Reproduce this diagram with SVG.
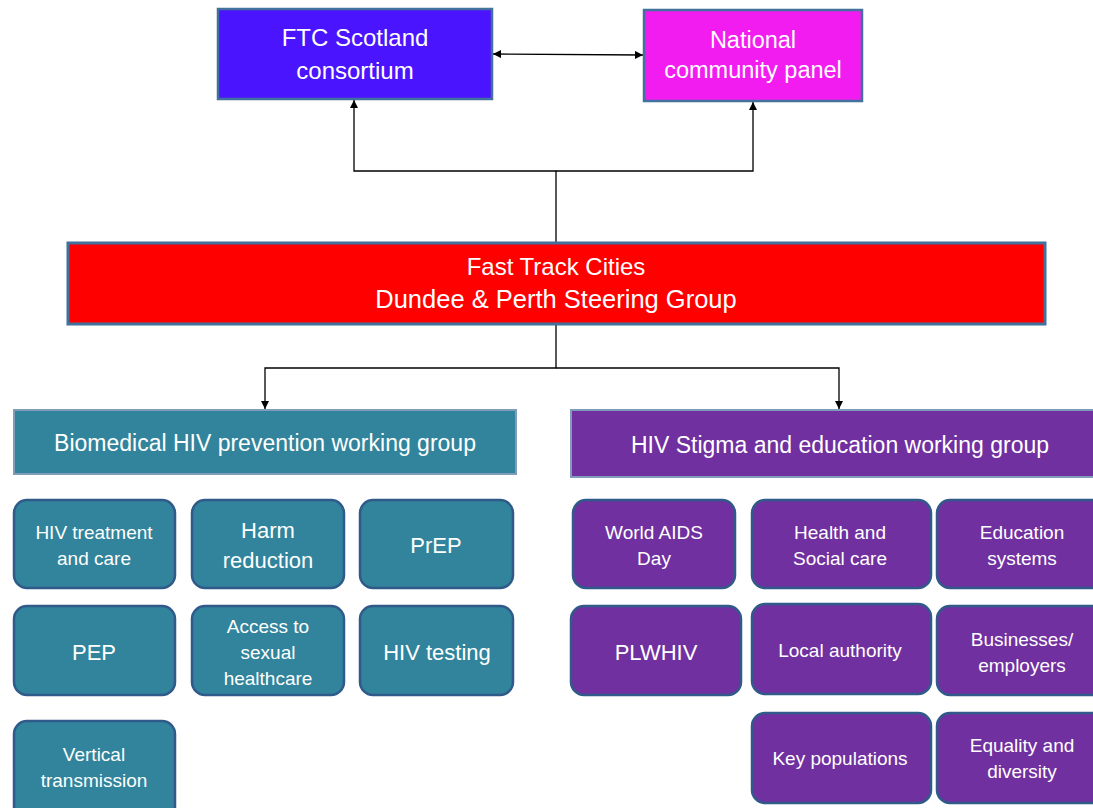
<svg xmlns="http://www.w3.org/2000/svg" width="1093" height="808" viewBox="0 0 1093 808">
<style>
text{font-family:"Liberation Sans",Arial,sans-serif;fill:#fff;text-anchor:middle}
.top{stroke:#41719C;stroke-width:2.5}
.wg{stroke:#7F9DBB;stroke-width:2}
.tb{fill:#31849B;stroke:#2F5A8A;stroke-width:2.5}
.pb{fill:#7030A0;stroke:#2F5A8A;stroke-width:2.5}
.s{font-size:19px}
.b{font-size:22px}
.conn{fill:none;stroke:#000;stroke-width:1.3}
</style>
<defs>
<marker id="ah" viewBox="0 0 10 10" refX="10" refY="5" markerWidth="8" markerHeight="8" markerUnits="userSpaceOnUse" orient="auto-start-reverse">
<path d="M0,0 L10,5 L0,10 z" fill="#000"/>
</marker>
</defs>
<rect width="1093" height="808" fill="#fff"/>
<g id="connectors">
<line class="conn" x1="493" y1="54" x2="643" y2="55" marker-start="url(#ah)" marker-end="url(#ah)"/>
<polyline class="conn" points="556,243 556,171 354,171 354,100" marker-end="url(#ah)"/>
<polyline class="conn" points="556,171 753,171 753,102" marker-end="url(#ah)"/>
<polyline class="conn" points="556,325 556,368 265,368 265,409" marker-end="url(#ah)"/>
<polyline class="conn" points="556,368 839,368 839,409" marker-end="url(#ah)"/>
</g>
<g id="ftc">
<rect class="top" x="218" y="9" width="274" height="90" fill="#4A14FF"/>
<text x="355" y="46" font-size="24">FTC Scotland</text>
<text x="355" y="79" font-size="24">consortium</text>
</g>
<g id="ncp">
<rect class="top" x="644" y="10" width="218" height="91" fill="#F21CF0"/>
<text x="753" y="48" font-size="23.5">National</text>
<text x="753" y="78" font-size="23.5">community panel</text>
</g>
<g id="steering">
<rect x="68" y="243" width="977" height="81" fill="#FF0000" stroke="#41719C" stroke-width="3"/>
<text x="556" y="275" font-size="24">Fast Track Cities</text>
<text x="556" y="308" font-size="25.5">Dundee &amp; Perth Steering Group</text>
</g>
<g id="biomedical">
<rect class="wg" x="14" y="410" width="502" height="64" fill="#31849B"/>
<text x="265" y="451" font-size="23">Biomedical HIV prevention working group</text>
</g>
<g id="stigma">
<rect class="wg" x="571" y="410" width="540" height="67" fill="#7030A0"/>
<text x="840" y="453" font-size="23">HIV Stigma and education working group</text>
</g>
<g id="hiv-treatment">
<rect class="tb" x="14" y="500" width="161" height="88" rx="13"/>
<text class="s" x="94" y="539">HIV treatment</text>
<text class="s" x="94" y="565">and care</text>
</g>
<g id="harm-reduction">
<rect class="tb" x="192" y="500" width="152" height="88" rx="13"/>
<text class="b" x="268" y="538">Harm</text>
<text class="b" x="268" y="568">reduction</text>
</g>
<g id="prep">
<rect class="tb" x="360" y="500" width="153" height="88" rx="13"/>
<text class="b" x="436" y="553">PrEP</text>
</g>
<g id="pep">
<rect class="tb" x="14" y="606" width="161" height="89" rx="13"/>
<text class="b" x="94" y="660">PEP</text>
</g>
<g id="access">
<rect class="tb" x="192" y="606" width="152" height="89" rx="13"/>
<text class="s" x="268" y="633">Access to</text>
<text class="s" x="268" y="659">sexual</text>
<text class="s" x="268" y="685">healthcare</text>
</g>
<g id="hiv-testing">
<rect class="tb" x="360" y="606" width="153" height="89" rx="13"/>
<text class="b" x="437" y="660">HIV testing</text>
</g>
<g id="vertical">
<rect class="tb" x="14" y="721" width="161" height="100" rx="13"/>
<text class="s" x="94" y="761">Vertical</text>
<text class="s" x="94" y="787">transmission</text>
</g>
<g id="world-aids-day">
<rect class="pb" x="573" y="500" width="162" height="88" rx="13"/>
<text class="s" x="654" y="539">World AIDS</text>
<text class="s" x="654" y="565">Day</text>
</g>
<g id="health-social">
<rect class="pb" x="752" y="500" width="179" height="88" rx="13"/>
<text class="s" x="840" y="539">Health and</text>
<text class="s" x="840" y="565">Social care</text>
</g>
<g id="education">
<rect class="pb" x="937" y="500" width="172" height="88" rx="13"/>
<text class="s" x="1022" y="539">Education</text>
<text class="s" x="1022" y="565">systems</text>
</g>
<g id="plwhiv">
<rect class="pb" x="571" y="606" width="170" height="89" rx="13"/>
<text class="b" x="656" y="660">PLWHIV</text>
</g>
<g id="local-authority">
<rect class="pb" x="752" y="604" width="179" height="90" rx="13"/>
<text class="s" x="840" y="657">Local authority</text>
</g>
<g id="businesses">
<rect class="pb" x="937" y="606" width="172" height="89" rx="13"/>
<text class="s" x="1022" y="646">Businesses/</text>
<text class="s" x="1022" y="672">employers</text>
</g>
<g id="key-populations">
<rect class="pb" x="752" y="713" width="179" height="90" rx="13"/>
<text class="s" x="840" y="765">Key populations</text>
</g>
<g id="equality">
<rect class="pb" x="937" y="713" width="172" height="90" rx="13"/>
<text class="s" x="1022" y="752">Equality and</text>
<text class="s" x="1022" y="778">diversity</text>
</g>
</svg>
